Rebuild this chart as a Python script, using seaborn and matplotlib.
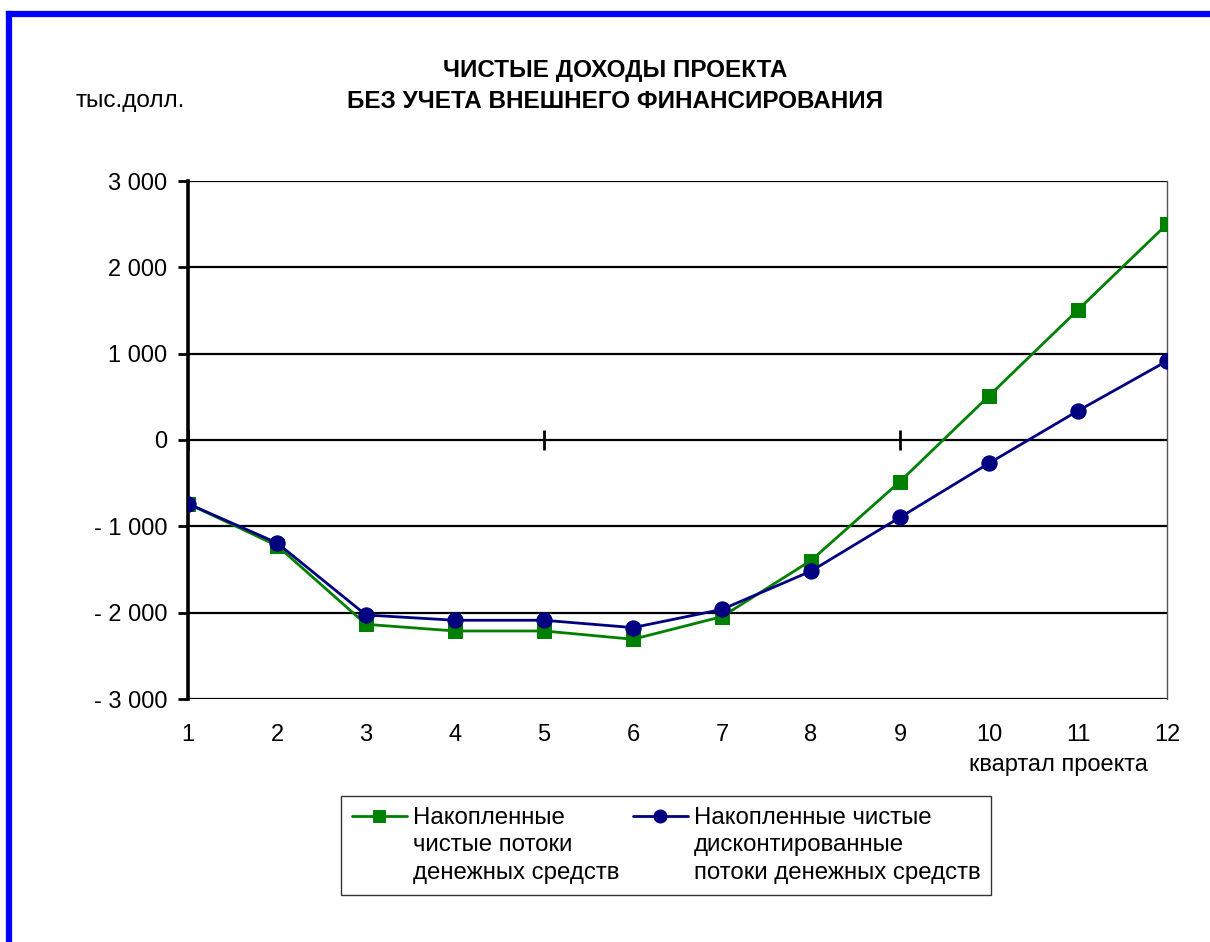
import matplotlib
matplotlib.use("Agg")
import matplotlib.pyplot as plt
from matplotlib.lines import Line2D
from matplotlib.ticker import FuncFormatter, MultipleLocator
import seaborn as sns
import pandas as pd

# Quarterly data, thousand USD
quarters = list(range(1, 13))
cum_net_flows = [-738, -1223, -2135, -2212, -2212, -2308, -2046, -1396, -481, 511, 1508, 2500]
cum_disc_flows = [-738, -1192, -2027, -2088, -2088, -2173, -1962, -1519, -896, -269, 338, 915]

title_lines = ["ЧИСТЫЕ ДОХОДЫ ПРОЕКТА", "БЕЗ УЧЕТА ВНЕШНЕГО ФИНАНСИРОВАНИЯ"]
unit_label = "тыс.долл."
x_label = "квартал проекта"
label_net = "Накопленные\nчистые потоки\nденежных средств"
label_disc = "Накопленные чистые\nдисконтированные\nпотоки денежных средств"

GREEN = "#008000"
NAVY = "#000080"

sns.set_style("white")
plt.rcParams["font.family"] = ["Liberation Sans", "DejaVu Sans"]
plt.rcParams.update({"text.color": "black", "axes.labelcolor": "black",
                     "xtick.color": "black", "ytick.color": "black"})

df = pd.DataFrame({"quarter": quarters, "net": cum_net_flows, "disc": cum_disc_flows})

fig = plt.figure(figsize=(12.10, 9.42), dpi=100)
ax = fig.add_axes([188 / 1210, 1 - 699 / 942, (1167 - 188) / 1210, (699 - 181) / 942])

sns.lineplot(data=df, x="quarter", y="net", ax=ax, color=GREEN, lw=2.0,
             marker="s", markersize=10.5, markeredgecolor=GREEN, label=label_net,
             zorder=5)
sns.lineplot(data=df, x="quarter", y="disc", ax=ax, color=NAVY, lw=2.0,
             marker="o", markersize=11, markeredgecolor=NAVY, label=label_disc,
             zorder=6)

ax.set_xlim(1, 12)
ax.set_ylim(-3000, 3000)
ax.yaxis.set_major_locator(MultipleLocator(1000))


def thousands(v, _pos):
    v = int(round(v))
    s = f"{abs(v):,}".replace(",", " ")
    return f"- {s}" if v < 0 else s


ax.yaxis.set_major_formatter(FuncFormatter(thousands))
ax.set_xticks(quarters)
ax.set_xticks([5, 9], minor=True)
ax.tick_params(axis="x", which="both", length=0, labelsize=17, pad=18)
ax.tick_params(axis="y", which="major", direction="out", length=7, width=2,
               labelsize=17, pad=8, left=True, color="black")
ax.set_xlabel("")
ax.set_ylabel("")

# horizontal grid every 1000, vertical grid every 4 quarters
ax.grid(False)
ax.yaxis.grid(True, which="major", color="black", lw=1.6, zorder=1)
ax.xaxis.grid(True, which="minor", color="#333333", lw=1.0, zorder=1)

for side in ("top", "bottom"):
    ax.spines[side].set_visible(False)
ax.spines["left"].set_color("black")
ax.spines["left"].set_linewidth(2.6)
ax.spines["right"].set_color("#555555")
ax.spines["right"].set_linewidth(1.0)

# category axis crossing at zero
zero_ax = ax.secondary_xaxis(0.5)
zero_ax.set_xticks([1, 5, 9])
zero_ax.tick_params(direction="inout", length=14, width=2, labelbottom=False,
                    labeltop=False, color="black")
zero_ax.spines["bottom"].set_linewidth(2.8)
zero_ax.spines["bottom"].set_color("black")
zero_ax.spines["top"].set_visible(False)

leg = ax.legend(loc="upper left", bbox_to_anchor=(341 / 1210, 1 - 796 / 942),
                bbox_transform=fig.transFigure, ncol=2, fontsize=17.3,
                frameon=True, fancybox=False, shadow=False, handlelength=2.3,
                handleheight=1.05, handletextpad=0.25, columnspacing=0.55,
                borderpad=0.45, borderaxespad=0, markerscale=0.85)
leg.get_frame().set_edgecolor("black")
leg.get_frame().set_linewidth(1.0)
for t in leg.get_texts():
    t.set_linespacing(1.32)
# put each legend key level with the first line of its label
for column in leg._legend_handle_box.get_children():
    for item in column.get_children():
        item.align = "top"

fig.text(615 / 1210, 1 - 71 / 942, title_lines[0], ha="center", va="center",
         fontsize=17.5, fontweight="bold")
fig.text(615 / 1210, 1 - 101 / 942, title_lines[1], ha="center", va="center",
         fontsize=17.5, fontweight="bold")
fig.text(76 / 1210, 1 - 101 / 942, unit_label, ha="left", va="center", fontsize=17.5)
fig.text(1148 / 1210, 1 - 765 / 942, x_label, ha="right", va="center", fontsize=17)

# blue frame along the top and left edges
fig.add_artist(Line2D([9 / 1210, 9 / 1210], [0, 1 - 13.5 / 942], color="#0000FF",
                      lw=4.5, transform=fig.transFigure, solid_capstyle="projecting"))
fig.add_artist(Line2D([9 / 1210, 1], [1 - 13.5 / 942, 1 - 13.5 / 942], color="#0000FF",
                      lw=4.5, transform=fig.transFigure, solid_capstyle="projecting"))

fig.savefig("out.png", dpi=100, facecolor="white")
